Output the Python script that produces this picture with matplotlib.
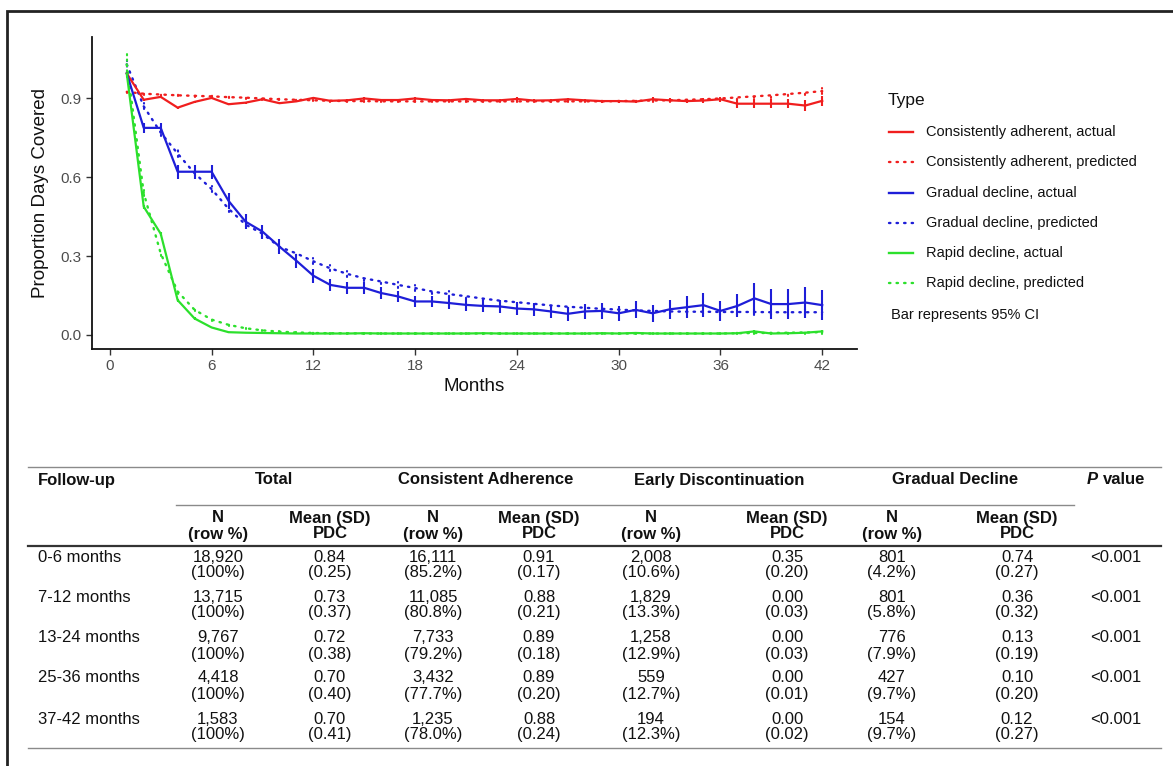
import matplotlib
matplotlib.use('Agg')
import matplotlib.pyplot as plt
from matplotlib.lines import Line2D
from matplotlib.patches import Rectangle

plt.rcParams['font.family'] = ['Liberation Sans', 'DejaVu Sans']

# ---- chart data ----
months = list(range(1, 43))

ca_actual = [0.995, 0.895, 0.906, 0.865, 0.887, 0.902, 0.878, 0.884, 0.897, 0.882,
             0.889, 0.902, 0.891, 0.893, 0.900, 0.894, 0.894, 0.900, 0.894, 0.893,
             0.898, 0.893, 0.893, 0.898, 0.892, 0.893, 0.897, 0.893, 0.890, 0.890,
             0.888, 0.897, 0.893, 0.890, 0.892, 0.897, 0.880, 0.880, 0.880, 0.880,
             0.873, 0.891]
ca_actual_ci = [0.004, 0.004, 0.004, 0.004, 0.004, 0.004, 0.004, 0.004, 0.004, 0.004,
                0.004, 0.004, 0.004, 0.004, 0.005, 0.005, 0.005, 0.005, 0.005, 0.005,
                0.005, 0.005, 0.005, 0.006, 0.006, 0.006, 0.006, 0.006, 0.006, 0.006,
                0.007, 0.007, 0.007, 0.008, 0.008, 0.009, 0.018, 0.018, 0.018, 0.018,
                0.020, 0.018]
ca_pred = [0.925, 0.918, 0.915, 0.912, 0.910, 0.908, 0.905, 0.903, 0.900, 0.897,
           0.895, 0.893, 0.891, 0.890, 0.890, 0.889, 0.889, 0.889, 0.889, 0.889,
           0.889, 0.889, 0.889, 0.889, 0.889, 0.889, 0.889, 0.889, 0.889, 0.890,
           0.891, 0.892, 0.893, 0.895, 0.897, 0.900, 0.904, 0.908, 0.912, 0.917,
           0.922, 0.928]
ca_pred_ci = [0.006, 0.004, 0.004, 0.004, 0.004, 0.004, 0.004, 0.004, 0.004, 0.004,
              0.004, 0.004, 0.004, 0.004, 0.004, 0.004, 0.004, 0.004, 0.004, 0.004,
              0.004, 0.004, 0.004, 0.004, 0.004, 0.004, 0.004, 0.004, 0.004, 0.004,
              0.005, 0.005, 0.005, 0.005, 0.006, 0.006, 0.008, 0.008, 0.009, 0.009,
              0.010, 0.010]

gd_actual = [0.995, 0.788, 0.788, 0.621, 0.621, 0.621, 0.510, 0.431, 0.393, 0.336,
             0.282, 0.225, 0.190, 0.179, 0.179, 0.159, 0.146, 0.127, 0.127, 0.121,
             0.114, 0.110, 0.108, 0.100, 0.097, 0.089, 0.080, 0.089, 0.091, 0.082,
             0.095, 0.082, 0.097, 0.105, 0.113, 0.091, 0.110, 0.139, 0.117, 0.117,
             0.123, 0.113]
gd_actual_ci = [0.000, 0.018, 0.018, 0.027, 0.027, 0.027, 0.030, 0.028, 0.027, 0.027,
                0.027, 0.026, 0.024, 0.023, 0.023, 0.022, 0.022, 0.021, 0.021, 0.022,
                0.023, 0.024, 0.024, 0.025, 0.025, 0.026, 0.027, 0.027, 0.029, 0.029,
                0.032, 0.033, 0.036, 0.041, 0.045, 0.038, 0.044, 0.060, 0.056, 0.056,
                0.060, 0.056]
gd_pred = [1.030, 0.870, 0.770, 0.690, 0.615, 0.555, 0.480, 0.420, 0.385, 0.335,
           0.310, 0.280, 0.253, 0.232, 0.215, 0.203, 0.190, 0.178, 0.165, 0.155,
           0.147, 0.138, 0.130, 0.124, 0.118, 0.112, 0.107, 0.103, 0.099, 0.096,
           0.093, 0.091, 0.089, 0.088, 0.088, 0.087, 0.087, 0.087, 0.086, 0.086,
           0.086, 0.086]
gd_pred_ci = [0.030, 0.012, 0.012, 0.012, 0.012, 0.012, 0.012, 0.011, 0.011, 0.011,
              0.011, 0.011, 0.011, 0.010, 0.010, 0.010, 0.010, 0.010, 0.010, 0.010,
              0.010, 0.010, 0.010, 0.010, 0.010, 0.010, 0.010, 0.010, 0.010, 0.010,
              0.010, 0.010, 0.010, 0.010, 0.010, 0.010, 0.010, 0.011, 0.011, 0.011,
              0.011, 0.011]

rd_actual = [0.995, 0.488, 0.385, 0.132, 0.062, 0.028, 0.010, 0.008, 0.007, 0.006,
             0.005, 0.005, 0.005, 0.005, 0.006, 0.005, 0.005, 0.005, 0.005, 0.005,
             0.005, 0.006, 0.005, 0.005, 0.005, 0.005, 0.005, 0.005, 0.006, 0.005,
             0.007, 0.005, 0.005, 0.005, 0.005, 0.005, 0.006, 0.013, 0.005, 0.006,
             0.008, 0.013]
rd_actual_ci = [0.000, 0.008, 0.008, 0.006, 0.004, 0.003, 0.002, 0.002, 0.002, 0.002,
                0.002, 0.002, 0.002, 0.002, 0.002, 0.002, 0.002, 0.002, 0.002, 0.002,
                0.002, 0.003, 0.002, 0.002, 0.002, 0.002, 0.002, 0.002, 0.003, 0.002,
                0.003, 0.002, 0.002, 0.002, 0.002, 0.002, 0.003, 0.006, 0.003, 0.003,
                0.004, 0.006]
rd_pred = [1.030, 0.540, 0.310, 0.165, 0.095, 0.058, 0.038, 0.025, 0.017, 0.012,
           0.009, 0.007, 0.006, 0.006, 0.005, 0.005, 0.005, 0.005, 0.005, 0.005,
           0.005, 0.005, 0.005, 0.005, 0.005, 0.005, 0.005, 0.005, 0.005, 0.005,
           0.005, 0.005, 0.005, 0.005, 0.005, 0.005, 0.006, 0.007, 0.007, 0.008,
           0.009, 0.010]
rd_pred_ci = [0.050, 0.012, 0.010, 0.008, 0.005, 0.004, 0.003, 0.002, 0.002, 0.002,
              0.002, 0.002, 0.002, 0.002, 0.002, 0.002, 0.002, 0.002, 0.002, 0.002,
              0.002, 0.002, 0.002, 0.002, 0.002, 0.002, 0.002, 0.002, 0.002, 0.002,
              0.002, 0.002, 0.002, 0.002, 0.002, 0.002, 0.003, 0.003, 0.003, 0.004,
              0.004, 0.005]

# ---- table data ----
followup = ['0-6 months', '7-12 months', '13-24 months', '25-36 months', '37-42 months']
total_n = ['18,920', '13,715', '9,767', '4,418', '1,583']
total_pct = ['(100%)', '(100%)', '(100%)', '(100%)', '(100%)']
total_mean = ['0.84', '0.73', '0.72', '0.70', '0.70']
total_sd = ['(0.25)', '(0.37)', '(0.38)', '(0.40)', '(0.41)']
ca_n = ['16,111', '11,085', '7,733', '3,432', '1,235']
ca_pct = ['(85.2%)', '(80.8%)', '(79.2%)', '(77.7%)', '(78.0%)']
ca_mean = ['0.91', '0.88', '0.89', '0.89', '0.88']
ca_sd = ['(0.17)', '(0.21)', '(0.18)', '(0.20)', '(0.24)']
ed_n = ['2,008', '1,829', '1,258', '559', '194']
ed_pct = ['(10.6%)', '(13.3%)', '(12.9%)', '(12.7%)', '(12.3%)']
ed_mean = ['0.35', '0.00', '0.00', '0.00', '0.00']
ed_sd = ['(0.20)', '(0.03)', '(0.03)', '(0.01)', '(0.02)']
gd_n = ['801', '801', '776', '427', '154']
gd_pct = ['(4.2%)', '(5.8%)', '(7.9%)', '(9.7%)', '(9.7%)']
gd_mean = ['0.74', '0.36', '0.13', '0.10', '0.12']
gd_sd = ['(0.27)', '(0.32)', '(0.19)', '(0.20)', '(0.27)']
p_values = ['<0.001', '<0.001', '<0.001', '<0.001', '<0.001']
groups = ['Total', 'Consistent Adherence', 'Early Discontinuation', 'Gradual Decline']

RED, BLUE, GREEN = '#F01E1E', '#1E1ED8', '#2CE02C'
DOT = (0, (0.6, 2.6))

W, H = 1173, 766
fig = plt.figure(figsize=(W / 100, H / 100), dpi=100)


def fx(px):
    return px / W


def fy(py):
    return 1 - py / H


# ---- line chart ----
ax = fig.add_axes([fx(92), fy(349), fx(857) - fx(92), fy(37) - fy(349)])

series = [
    ('Consistently adherent', RED, ca_actual, ca_actual_ci, ca_pred, ca_pred_ci),
    ('Gradual decline', BLUE, gd_actual, gd_actual_ci, gd_pred, gd_pred_ci),
    ('Rapid decline', GREEN, rd_actual, rd_actual_ci, rd_pred, rd_pred_ci),
]
handles = []
for name, col, act, act_ci, pred, pred_ci in series:
    ax.plot(months, act, color=col, lw=1.6, zorder=3)
    ax.errorbar(months, act, yerr=act_ci, fmt='none', ecolor=col, elinewidth=1.5,
                capsize=0, zorder=3)
    ax.plot(months, pred, color=col, lw=1.7, ls=DOT, dash_capstyle='round', zorder=2)
    eb = ax.errorbar(months, pred, yerr=pred_ci, fmt='none', ecolor=col,
                     elinewidth=1.5, capsize=0, zorder=2)
    eb[2][0].set_linestyle((0, (0.6, 2.0)))
    eb[2][0].set_capstyle('round')
    handles.append((col, '-', name + ', actual'))
    handles.append((col, DOT, name + ', predicted'))

ax.set_xlim(-1.05, 44.05)
ax.set_ylim(-0.054, 1.134)
ax.set_xticks([0, 6, 12, 18, 24, 30, 36, 42])
ax.set_yticks([0.0, 0.3, 0.6, 0.9])
ax.set_yticklabels(['0.0', '0.3', '0.6', '0.9'])
for s in ['top', 'right']:
    ax.spines[s].set_visible(False)
for s in ['left', 'bottom']:
    ax.spines[s].set_linewidth(1.3)
    ax.spines[s].set_color('#111111')
ax.tick_params(length=4, width=1, color='#333333', labelcolor='#4D4D4D', labelsize=11)
ax.set_xlabel('Months', fontsize=13.5, color='#111111', labelpad=3)
ax.set_ylabel('Proportion Days Covered', fontsize=13.5, color='#111111', labelpad=8)

# ---- legend (drawn beside the panel) ----
fig.text(fx(888), fy(100), 'Type', fontsize=12.5, va='center', ha='left', color='#111111')
leg_y = [132, 162, 193, 223, 253, 283]
for (col, ls, lab), yy in zip(handles, leg_y):
    fig.add_artist(Line2D([fx(889), fx(913)], [fy(yy), fy(yy)], transform=fig.transFigure,
                          color=col, lw=1.7, ls=ls, dash_capstyle='round'))
    fig.text(fx(926), fy(yy), lab, fontsize=10.5, va='center', ha='left', color='#111111')
fig.text(fx(891), fy(315), 'Bar represents 95% CI', fontsize=10.5, va='center',
         ha='left', color='#111111')

# ---- table ----
col_x = [218, 330, 433, 539, 651, 787, 892, 1017]
group_x = [274, 486, 719, 955]
p_x = 1116
row_y = [557, 597, 638, 678, 719]
sub = 16
fs = 12
tc = '#111111'

for yy, lw, c in [(467, 1.0, '#8A8A8A'), (546, 1.6, '#333333'), (748, 1.0, '#8A8A8A')]:
    fig.add_artist(Line2D([fx(28), fx(1161)], [fy(yy), fy(yy)], transform=fig.transFigure,
                          color=c, lw=lw))
fig.add_artist(Line2D([fx(176), fx(1074)], [fy(505), fy(505)], transform=fig.transFigure,
                      color='#8A8A8A', lw=1.0))

fig.text(fx(38), fy(480), 'Follow-up', fontsize=fs, weight='bold', va='center', color=tc)
for g, gx in zip(groups, group_x):
    fig.text(fx(gx), fy(480), g, fontsize=fs, weight='bold', va='center', ha='center',
             color=tc)
fig.text(fx(1087), fy(480), 'P', fontsize=fs, weight='bold', style='italic', va='center',
         ha='left', color=tc)
fig.text(fx(1103), fy(480), 'value', fontsize=fs, weight='bold', va='center', ha='left',
         color=tc)
for i, cx in enumerate(col_x):
    top, bot = ('N', '(row %)') if i % 2 == 0 else ('Mean (SD)', 'PDC')
    fig.text(fx(cx), fy(518), top, fontsize=fs, weight='bold', va='center', ha='center',
             color=tc)
    fig.text(fx(cx), fy(534), bot, fontsize=fs, weight='bold', va='center', ha='center',
             color=tc)

cols = [(total_n, total_pct), (total_mean, total_sd), (ca_n, ca_pct), (ca_mean, ca_sd),
        (ed_n, ed_pct), (ed_mean, ed_sd), (gd_n, gd_pct), (gd_mean, gd_sd)]
for r, yy in enumerate(row_y):
    fig.text(fx(38), fy(yy), followup[r], fontsize=fs, va='center', ha='left', color=tc)
    for (a, b), cx in zip(cols, col_x):
        fig.text(fx(cx), fy(yy), a[r], fontsize=fs, va='center', ha='center', color=tc)
        fig.text(fx(cx), fy(yy + sub), b[r], fontsize=fs, va='center', ha='center', color=tc)
    fig.text(fx(p_x), fy(yy), p_values[r], fontsize=fs, va='center', ha='center', color=tc)

# outer frame of the figure panel
fig.add_artist(Rectangle((fx(7), fy(790)), fx(1200), fy(11) - fy(790), transform=fig.transFigure,
                         fill=False, edgecolor='#222222', lw=2, clip_on=False))

fig.savefig('out.png', dpi=100)
